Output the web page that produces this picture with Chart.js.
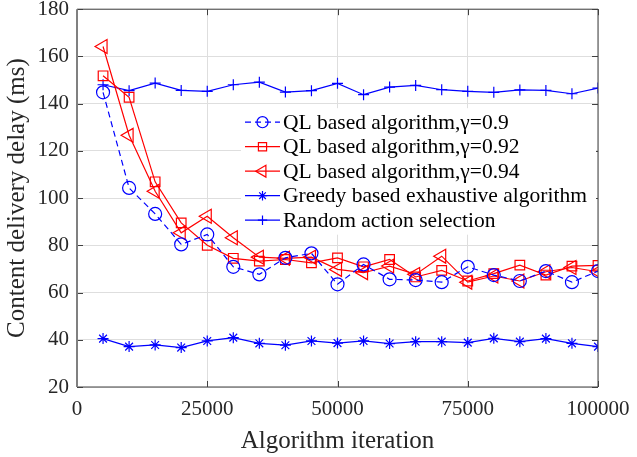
<!DOCTYPE html>
<html>
<head>
<meta charset="utf-8">
<script src="https://cdn.jsdelivr.net/npm/chart.js@4.4.1/dist/chart.umd.min.js"></script>
<style>
  html, body { margin: 0; padding: 0; background: #fff; }
  #wrap { width: 637px; height: 457px; }
</style>
</head>
<body>
<div id="wrap"><canvas id="chart"></canvas></div>
<script>
// algorithm iteration (x) and content delivery delay in ms (y)
const iterations = [5000, 10000, 15000, 20000, 25000, 30000, 35000, 40000, 45000, 50000,
    55000, 60000, 65000, 70000, 75000, 80000, 85000, 90000, 95000, 100000];
const delayGamma090 = [144.8, 104.3, 93.3, 80.4, 84.6, 70.9, 67.7, 74.7, 76.6, 63.5,
    71.9, 65.6, 65.3, 64.4, 70.9, 67.4, 64.9, 69.1, 64.4, 69.1];
const delayGamma092 = [151.8, 142.7, 106.9, 89.5, 80.0, 74.5, 73.3, 74.0, 72.6, 74.7,
    70.9, 74.0, 66.6, 69.4, 64.9, 68.0, 71.6, 67.4, 71.2, 71.5];
const delayGamma094 = [164.2, 126.6, 102.9, 85.3, 92.3, 83.2, 75.0, 74.5, 75.0, 69.8,
    68.4, 71.2, 67.7, 75.4, 64.4, 67.0, 64.9, 68.8, 70.6, 68.8];
const delayGreedy = [40.5, 37.1, 37.8, 36.7, 39.5, 40.9, 38.5, 37.7, 39.5, 38.6,
    39.5, 38.4, 39.2, 39.2, 38.8, 40.6, 39.2, 40.5, 38.5, 37.1];
const delayRandom = [148.0, 145.5, 148.7, 145.6, 145.2, 148.0, 149.1, 144.9, 145.5, 148.6,
    143.8, 147.0, 147.7, 145.9, 145.2, 144.8, 145.8, 145.6, 144.2, 146.6];

const seriesLabels = [
    'QL based algorithm,\u03b3=0.9',
    'QL based algorithm,\u03b3=0.92',
    'QL based algorithm,\u03b3=0.94',
    'Greedy based exhaustive algorithm',
    'Random action selection'
];
const xTicks = [0, 25000, 50000, 75000, 100000];
const yTicks = [20, 40, 60, 80, 100, 120, 140, 160, 180];

const SERIF = "'Liberation Serif', 'Times New Roman', serif";
const BLUE = '#0000ff';
const RED = '#ff0000';

const toPoints = values => values.map((v, i) => ({ x: iterations[i], y: v }));

function makeSet(label, values, color, pointStyle, radius, extra) {
    return Object.assign({
        label: label,
        data: toPoints(values),
        borderColor: color,
        backgroundColor: 'rgba(0,0,0,0)',
        borderWidth: 1.2,
        pointStyle: pointStyle,
        pointRadius: radius,
        pointBorderColor: color,
        pointBackgroundColor: 'rgba(0,0,0,0)',
        pointBorderWidth: 1.2,
        tension: 0,
        fill: false
    }, extra || {});
}

const datasets = [
    makeSet(seriesLabels[0], delayGamma090, BLUE, 'circle', 6.5, { borderDash: [6, 4] }),
    makeSet(seriesLabels[1], delayGamma092, RED, 'rect', 6.8),
    makeSet(seriesLabels[2], delayGamma094, RED, 'triangle', 8, { pointRotation: -90 }),
    makeSet(seriesLabels[3], delayGreedy, BLUE, 'star', 5.5),
    makeSet(seriesLabels[4], delayRandom, BLUE, 'cross', 5.5)
];

// box around the plot with inward tick marks, like the original figure
const boxPlugin = {
    id: 'box',
    afterDatasetsDraw(chart) {
        const { ctx, chartArea: a, scales } = chart;
        const len = 6;
        ctx.save();
        ctx.strokeStyle = '#404040';
        ctx.lineWidth = 1;
        ctx.beginPath();
        xTicks.forEach(t => {
            const px = Math.round(scales.x.getPixelForValue(t)) + 0.5;
            ctx.moveTo(px, a.bottom); ctx.lineTo(px, a.bottom - len);
            ctx.moveTo(px, a.top); ctx.lineTo(px, a.top + len);
        });
        yTicks.forEach(t => {
            const py = Math.round(scales.y.getPixelForValue(t)) + 0.5;
            ctx.moveTo(a.left, py); ctx.lineTo(a.left + len, py);
            ctx.moveTo(a.right, py); ctx.lineTo(a.right - len, py);
        });
        ctx.stroke();
        ctx.beginPath();
        ctx.moveTo(a.left, a.bottom);
        ctx.lineTo(a.right, a.bottom);
        ctx.lineTo(a.right, a.top);
        ctx.lineTo(a.left, a.top);
        ctx.stroke();
        ctx.strokeStyle = '#808080';
        ctx.lineWidth = 2;
        ctx.beginPath();
        ctx.moveTo(a.left, a.top);
        ctx.lineTo(a.left, a.bottom);
        ctx.stroke();
        ctx.restore();
    }
};

// legend drawn inside the plot with a white background
const legendPlugin = {
    id: 'innerLegend',
    afterDraw(chart) {
        const { ctx, chartArea: a } = chart;
        const left = a.left + 164;
        const top = a.top + 99;
        const rowH = 24.5;
        ctx.save();
        ctx.fillStyle = '#ffffff';
        ctx.fillRect(left, top, a.right - left - 2, rowH * 5 + 4);
        chart.data.datasets.forEach((ds, i) => {
            const y = top + 14 + i * rowH;
            const x0 = left + 4, x1 = left + 39;
            ctx.strokeStyle = ds.borderColor;
            ctx.lineWidth = ds.borderWidth;
            ctx.setLineDash(ds.borderDash || []);
            ctx.beginPath();
            ctx.moveTo(x0, y);
            ctx.lineTo(x1, y);
            ctx.stroke();
            ctx.setLineDash([]);
            ctx.fillStyle = 'rgba(0,0,0,0)';
            ctx.lineWidth = ds.pointBorderWidth;
            Chart.helpers.drawPoint(ctx, {
                pointStyle: ds.pointStyle,
                rotation: ds.pointRotation || 0,
                radius: ds.pointRadius * 0.85,
                borderWidth: ds.pointBorderWidth
            }, (x0 + x1) / 2, y);
            ctx.fillStyle = '#000000';
            ctx.font = '21.5px ' + SERIF;
            ctx.textBaseline = 'middle';
            ctx.textAlign = 'left';
            ctx.fillText(ds.label, x1 + 3, y + 1);
        });
        ctx.restore();
    }
};

new Chart(document.getElementById('chart'), {
    type: 'line',
    data: { datasets: datasets },
    options: {
        responsive: true,
        maintainAspectRatio: false,
        animation: false,
        layout: { padding: { left: 0, right: 39, top: 7, bottom: 0 } },
        plugins: {
            legend: { display: false },
            tooltip: { enabled: false }
        },
        scales: {
            x: {
                type: 'linear',
                min: 0,
                max: 100000,
                afterFit: s => { s.height = 70; s.paddingLeft = 0; s.paddingRight = 0; },
                afterBuildTicks: s => { s.ticks = xTicks.map(v => ({ value: v })); },
                ticks: {
                    color: '#262626',
                    font: { family: SERIF, size: 21 },
                    padding: 10,
                    maxRotation: 0,
                    callback: v => String(v)
                },
                grid: { color: '#dedede', lineWidth: 1, drawTicks: false },
                border: { display: false },
                title: {
                    display: true,
                    text: 'Algorithm iteration',
                    color: '#262626',
                    font: { family: SERIF, size: 25 },
                    padding: { top: 0, bottom: 1 }
                }
            },
            y: {
                min: 20,
                max: 180,
                afterFit: s => { s.width = 77; s.paddingTop = 0; s.paddingBottom = 0; },
                afterBuildTicks: s => { s.ticks = yTicks.map(v => ({ value: v })); },
                ticks: {
                    color: '#262626',
                    font: { family: SERIF, size: 21 },
                    padding: 8,
                    callback: v => String(v)
                },
                grid: { color: '#dedede', lineWidth: 1, drawTicks: false },
                border: { display: false },
                title: {
                    display: true,
                    text: 'Content delivery delay (ms)',
                    color: '#262626',
                    font: { family: SERIF, size: 25 },
                    padding: { top: 2, bottom: 0 }
                }
            }
        }
    },
    plugins: [boxPlugin, legendPlugin]
});
</script>
</body>
</html>
